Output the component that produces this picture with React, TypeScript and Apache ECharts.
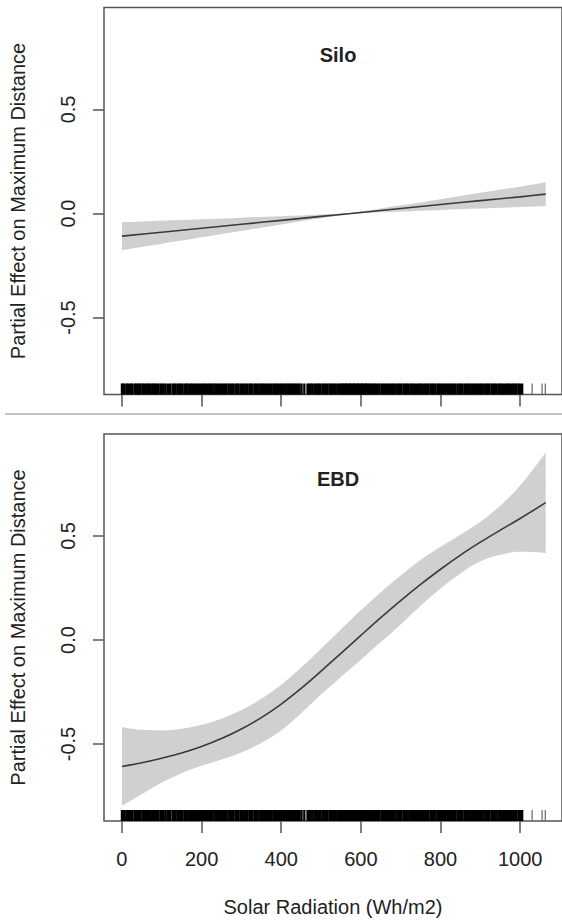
import React, { useEffect, useRef } from "react";
import * as echarts from "echarts";

// Solar radiation grid (Wh/m2) at which the smooth terms are read
const SILO_X = [0, 100, 200, 300, 400, 500, 575, 600, 700, 800, 900, 1000, 1064];
const SILO_FIT = [-0.109, -0.09, -0.071, -0.052, -0.033, -0.014, 0.0, 0.005, 0.024, 0.043, 0.062, 0.08, 0.093];
const SILO_LOWER = [-0.176, -0.145, -0.114, -0.084, -0.053, -0.023, -0.003, 0.001, 0.009, 0.017, 0.024, 0.031, 0.036];
const SILO_UPPER = [-0.042, -0.035, -0.028, -0.02, -0.013, -0.005, 0.003, 0.009, 0.039, 0.069, 0.1, 0.129, 0.15];

const EBD_X = [0, 50, 100, 150, 200, 250, 300, 350, 400, 450, 500, 550, 600, 650, 700, 750, 800, 850, 900, 950, 1000, 1064];
const EBD_FIT = [
  -0.608, -0.59, -0.568, -0.543, -0.512, -0.474, -0.428, -0.373, -0.308, -0.233, -0.15,
  -0.064, 0.022, 0.107, 0.189, 0.267, 0.34, 0.408, 0.47, 0.528, 0.584, 0.66,
];
const EBD_UPPER = [
  -0.419, -0.432, -0.435, -0.427, -0.408, -0.378, -0.337, -0.283, -0.215, -0.132, -0.042,
  0.052, 0.143, 0.23, 0.31, 0.384, 0.448, 0.506, 0.568, 0.645, 0.742, 0.9,
];
const EBD_LOWER = [
  -0.797, -0.742, -0.685, -0.64, -0.605, -0.575, -0.541, -0.495, -0.435, -0.352, -0.262,
  -0.178, -0.095, -0.01, 0.075, 0.165, 0.248, 0.32, 0.378, 0.41, 0.424, 0.418,
];

// Observed solar radiation values (rug)
const RUG = [
  0, 3, 7, 12, 15, 20, 24, 27, 33, 36, 40, 44, 47, 52, 55, 60, 64, 68, 71, 76, 80, 83, 88, 92, 97,
  101, 105, 110, 116, 121, 127, 131, 135, 140, 144, 148, 152, 157, 161, 164, 169, 173, 177, 181,
  186, 190, 194, 199, 203, 207, 211, 216, 220, 224, 228, 233, 237, 241, 246, 250, 254, 259, 263,
  268, 272, 276, 280, 285, 289, 293, 298, 302, 306, 311, 315, 320, 324, 328, 333, 337, 341, 346,
  350, 354, 358, 362, 367, 371, 375, 380, 384, 388, 392, 397, 401, 405, 409, 414, 418, 422, 426,
  430, 434, 438, 442, 446, 451, 458, 466, 470, 474, 478, 483, 487, 491, 495, 499, 504, 508, 512,
  516, 521, 525, 529, 533, 537, 542, 546, 550, 553, 556, 560, 563, 566, 570, 573, 576, 580, 583,
  586, 590, 593, 596, 600, 603, 606, 610, 613, 616, 620, 623, 627, 631, 635, 639, 643, 647, 652,
  656, 660, 664, 668, 673, 677, 681, 685, 690, 694, 698, 702, 707, 711, 715, 719, 724, 728, 732,
  736, 741, 745, 749, 753, 758, 762, 766, 770, 775, 779, 783, 787, 792, 796, 800, 804, 809, 813,
  817, 821, 826, 830, 834, 838, 843, 847, 851, 855, 860, 864, 868, 872, 877, 881, 885, 889, 894,
  898, 902, 906, 911, 915, 919, 923, 928, 932, 936, 940, 945, 949, 953, 957, 962, 966, 970, 974,
  979, 983, 987, 991, 996, 1000, 1005,
];
const RUG_SPARSE = [1030, 1055, 1063];

const X_TICKS = [0, 200, 400, 600, 800, 1000];
const Y_TICKS = [-0.5, 0, 0.5];
const PANELS = ["Silo", "EBD"];

const X_MIN = -45;
const X_MAX = 1105;
const Y_MIN = -0.87;
const Y_MAX = 0.99;

const FONT = "'Liberation Sans', Arial, Helvetica, sans-serif";
const TEXT = "#222";
const AXIS = "#555";
const BAND = "#d0d0d0";
const LINE = "#3a3a3a";
const SMOOTH = 0.35;

// Confidence band as a stacked pair: the lower bound, then the band width on top of it.
// Columns are [value, x] so that the stacked dimension is the y value.
function bandSeries(idx: number, xs: number[], lower: number[], upper: number[]) {
  const common = {
    type: "line",
    xAxisIndex: idx,
    yAxisIndex: idx,
    encode: { x: 1, y: 0 },
    stack: "band" + idx,
    stackStrategy: "all",
    smooth: SMOOTH,
    symbol: "none",
    lineStyle: { opacity: 0 },
    silent: true,
    z: 1,
  };
  return [
    { ...common, data: xs.map((x, i) => [lower[i], x]) },
    {
      ...common,
      data: xs.map((x, i) => [upper[i] - lower[i], x]),
      areaStyle: { color: BAND, opacity: 1 },
    },
  ];
}

function fitSeries(idx: number, xs: number[], fit: number[]) {
  return {
    type: "line",
    xAxisIndex: idx,
    yAxisIndex: idx,
    data: xs.map((x, i) => [x, fit[i]]),
    smooth: SMOOTH,
    symbol: "none",
    lineStyle: { color: LINE, width: 1.6 },
    silent: true,
    z: 3,
  };
}

function rugSeries(idx: number, values: number[], width: number, color: string) {
  return {
    type: "custom",
    xAxisIndex: idx,
    yAxisIndex: idx,
    data: values.map((v) => [v, Y_MIN]),
    clip: false,
    silent: true,
    z: 4,
    renderItem: (_params: any, api: any) => {
      const p = api.coord([api.value(0), Y_MIN]);
      return {
        type: "line",
        shape: { x1: p[0], y1: p[1], x2: p[0], y2: p[1] - 11 },
        style: { stroke: color, lineWidth: width },
      };
    },
  };
}

export default function App() {
  const ref = useRef<HTMLDivElement>(null);

  useEffect(() => {
    document.body.style.margin = "0";
    if (!ref.current) return;
    const chart = echarts.init(ref.current, null, { renderer: "svg" });

    const grids = [
      { left: 103, right: -1, top: 7.5, height: 387 },
      { left: 103, right: -1, top: 434, height: 387 },
    ].map((g) => ({ ...g, show: true, borderColor: AXIS, borderWidth: 1.5, backgroundColor: "transparent" }));

    const xAxes = [0, 1].map((i) => ({
      type: "value",
      gridIndex: i,
      min: X_MIN,
      max: X_MAX,
      axisLine: { show: false, onZero: false },
      splitLine: { show: false },
      axisTick: { show: true, length: 12, customValues: X_TICKS, lineStyle: { color: AXIS, width: 1.5 } },
      axisLabel: {
        show: i === 1,
        customValues: X_TICKS,
        margin: 28,
        fontSize: 20,
        fontFamily: FONT,
        color: TEXT,
        formatter: (v: number) => String(v),
      },
      name: i === 1 ? "Solar Radiation (Wh/m2)" : "",
      nameLocation: "middle",
      nameGap: 76,
      nameTextStyle: { fontSize: 20, fontFamily: FONT, color: TEXT },
    }));

    const yAxes = [0, 1].map((i) => ({
      type: "value",
      gridIndex: i,
      min: Y_MIN,
      max: Y_MAX,
      axisLine: { show: false, onZero: false },
      splitLine: { show: false },
      axisTick: { show: true, length: 11, customValues: Y_TICKS, lineStyle: { color: AXIS, width: 1.5 } },
      axisLabel: {
        customValues: Y_TICKS,
        rotate: 90,
        margin: 26,
        fontSize: 20,
        fontFamily: FONT,
        color: TEXT,
        formatter: (v: number) => v.toFixed(1),
      },
      name: "Partial Effect on Maximum Distance",
      nameLocation: "middle",
      nameGap: 76,
      nameTextStyle: { fontSize: 20, fontFamily: FONT, color: TEXT },
    }));

    chart.setOption({
      animation: false,
      backgroundColor: "#fff",
      title: PANELS.map((name, i) => ({
        text: name,
        left: 333,
        top: i === 0 ? 40 : 464,
        textAlign: "center",
        textStyle: { fontSize: 20, fontWeight: "bold", fontFamily: FONT, color: TEXT },
      })),
      grid: grids,
      xAxis: xAxes,
      yAxis: yAxes,
      graphic: [
        {
          type: "line",
          shape: { x1: 5, y1: 414, x2: 562, y2: 414 },
          style: { stroke: "#c4c4c4", lineWidth: 2 },
          silent: true,
        },
      ],
      series: [
        ...bandSeries(0, SILO_X, SILO_LOWER, SILO_UPPER),
        fitSeries(0, SILO_X, SILO_FIT),
        rugSeries(0, RUG, 2.3, "#000"),
        rugSeries(0, RUG_SPARSE, 1.2, "#666"),
        ...bandSeries(1, EBD_X, EBD_LOWER, EBD_UPPER),
        fitSeries(1, EBD_X, EBD_FIT),
        rugSeries(1, RUG, 2.3, "#000"),
        rugSeries(1, RUG_SPARSE, 1.2, "#666"),
      ],
    });

    return () => chart.dispose();
  }, []);

  return <div ref={ref} style={{ width: 562, height: 921 }} />;
}
